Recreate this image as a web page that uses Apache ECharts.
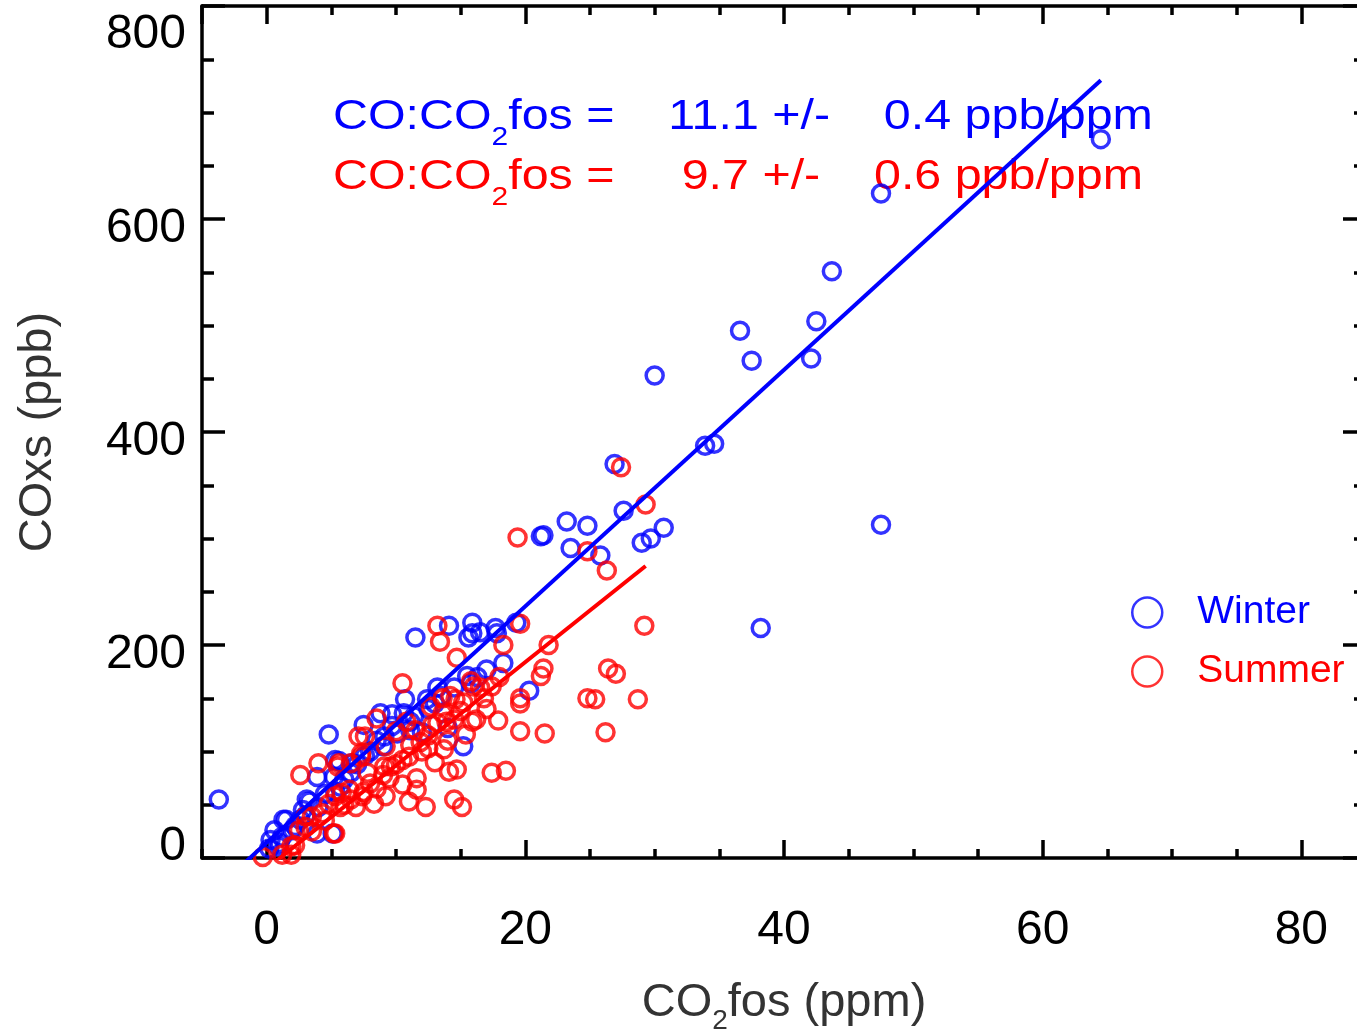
<!DOCTYPE html>
<html>
<head>
<meta charset="utf-8">
<script src="https://cdn.jsdelivr.net/npm/echarts@6/dist/echarts.min.js"></script>
<style>
  html, body { margin: 0; padding: 0; background: #fff; }
  #main { width: 1357px; height: 1031px; }
</style>
</head>
<body>
<div id="main"></div>
<script>
// [CO2fos (ppm), COxs (ppb)]
var winterPoints = [
  [-3.7, 55], [64.5, 675], [47.5, 624], [43.7, 551], [42.5, 504], [36.6, 495], [42.1, 469], [37.5, 467], [30.0, 453],
  [34.6, 389], [33.9, 387], [26.9, 370], [27.6, 326], [30.7, 310], [29.7, 300], [29.0, 296],
  [23.2, 316], [24.8, 312], [21.2, 302], [21.4, 303], [23.5, 291], [25.8, 284], [47.5, 313], [38.2, 216],
  [19.3, 221], [17.7, 216], [17.8, 211], [16.5, 212], [15.9, 221], [15.9, 211], [15.6, 207], [14.1, 218], [11.5, 207],
  [17.0, 177], [15.5, 171], [15.8, 164], [20.3, 157], [15.2, 105],
  [10.7, 149], [12.4, 149], [8.8, 136], [9.7, 135], [10.6, 136], [11.4, 133], [11.1, 128], [11.1, 120], [10.1, 117],
  [9.1, 114], [9.7, 124], [7.5, 125],
  [4.8, 116], [5.3, 92], [5.6, 91], [6.6, 89], [3.9, 76], [5.2, 76], [5.7, 67], [5.3, 62], [3.1, 55], [3.3, 53],
  [2.8, 45], [1.3, 36], [2.6, 36], [1.5, 36], [0.6, 26], [2.0, 26], [0.3, 17], [1.2, 20], [0.9, 11], [0.2, 9],
  [5.1, 23], [3.9, 23],
  [12.5, 140], [13.5, 152], [14.5, 160], [13.0, 145], [8.0, 100], [7.0, 88], [6.5, 80], [9.0, 105], [4.5, 60],
  [4.0, 48], [2.2, 30], [3.0, 40], [1.0, 14], [6.0, 74], [7.6, 96], [8.5, 110], [16.3, 170], [14.0, 122],
  [12.0, 118], [18.3, 183], [13.2, 160]
];

var summerPoints = [
  [27.4, 367], [29.3, 332], [19.4, 301], [24.8, 288], [26.3, 270], [19.6, 220], [29.2, 218], [18.3, 200], [21.8, 200],
  [26.4, 178], [27.0, 173], [21.4, 178], [21.2, 171], [17.4, 161], [16.5, 160], [19.6, 150], [19.6, 145], [24.8, 150],
  [25.4, 149], [28.7, 149], [17.9, 129], [19.6, 119], [21.5, 117], [26.2, 118],
  [13.2, 218], [13.4, 203], [14.7, 188], [10.5, 164], [15.8, 166], [16.0, 161], [14.2, 152], [14.6, 149], [13.6, 150],
  [12.7, 142], [15.9, 128], [14.5, 130], [13.6, 136], [13.2, 127], [13.9, 128], [15.4, 116], [15.2, 146],
  [8.5, 131], [7.6, 114], [10.0, 119], [9.2, 105], [11.1, 106], [11.9, 109], [12.5, 103], [13.7, 102], [5.6, 89],
  [6.5, 89], [7.3, 95], [7.8, 80], [9.1, 86], [9.6, 86], [11.6, 75], [10.5, 69], [11.6, 64], [14.1, 81], [14.7, 83],
  [17.4, 80], [18.5, 82], [9.2, 58], [8.3, 51], [11.0, 53], [12.3, 48], [14.5, 55], [15.1, 48], [6.5, 55], [5.7, 48],
  [5.2, 23],
  [2.6, 78], [4.0, 89], [5.5, 86], [7.1, 114], [7.3, 98], [3.0, 39], [3.5, 39], [4.3, 42], [2.5, 26], [3.0, 29],
  [2.2, 12], [-0.3, 1], [1.2, 3], [1.9, 3], [5.3, 23], [4.8, 51], [5.3, 58], [5.8, 61], [6.4, 64], [6.9, 48],
  [7.4, 58], [1.9, 11],
  [8.0, 70], [9.0, 78], [10.0, 88], [11.0, 95], [12.0, 100], [10.5, 92], [9.5, 75], [8.5, 65], [7.5, 62], [6.0, 50],
  [4.5, 35], [3.5, 25], [12.5, 115], [14.0, 110], [11.5, 120], [10.8, 128], [16.8, 150], [15.0, 138], [12.8, 125],
  [17.0, 140], [18.0, 170], [16.2, 130], [13.0, 90]
];

var seasonNames = ['Winter', 'Summer'];
var seasonColors = ['#0000ff', '#ff0000'];
var fitSlope = [11.1, 9.7];       // ppb/ppm
var fitError = [0.4, 0.6];
var fitIntercept = [14.4, -10.0]; // ppb

var FONT = 'Liberation Sans';

// fit line spans the x range of its own points
function fitLine(points, i) {
  var xs = points.map(function (p) { return p[0]; });
  var x0 = Math.min.apply(null, xs), x1 = Math.max.apply(null, xs);
  return [[x0, fitSlope[i] * x0 + fitIntercept[i]], [x1, fitSlope[i] * x1 + fitIntercept[i]]];
}

function ratioText(i) {
  return '{m|CO:CO}{s|2}{m|fos = ' + fitSlope[i].toFixed(1).padStart(7) + ' +/- ' +
    fitError[i].toFixed(1).padStart(6) + ' ppb/ppm}';
}

var allPoints = [winterPoints, summerPoints];
var series = [];
seasonNames.forEach(function (name, i) {
  series.push({
    type: 'scatter',
    name: name,
    data: allPoints[i],
    symbol: 'circle',
    symbolSize: 17,
    itemStyle: { color: 'rgba(0,0,0,0)', borderColor: seasonColors[i], borderWidth: 3.5 },
    emphasis: { disabled: true }
  });
  series.push({
    type: 'line',
    data: fitLine(allPoints[i], i),
    showSymbol: false,
    lineStyle: { color: seasonColors[i], width: 4 },
    emphasis: { disabled: true }
  });
});

var lineSt = { color: '#000', width: 3.5 };

var chart = echarts.init(document.getElementById('main'));
chart.setOption({
  animation: false,
  backgroundColor: '#fff',
  grid: { left: 202, right: -9, top: 6, bottom: 173, containLabel: false, outerBoundsMode: 'none' },
  legend: {
    left: 1131, top: 593, orient: 'vertical', padding: 0,
    itemWidth: 90, itemHeight: 30, itemGap: 20,
    icon: 'circle', selectedMode: false,
    itemStyle: { color: 'rgba(0,0,0,0)', borderWidth: 2.5 },
    textStyle: { fontSize: 39, fontFamily: FONT, lineHeight: 30 },
    data: seasonNames.map(function (n, i) { return { name: n, textStyle: { color: seasonColors[i] } }; })
  },
  xAxis: [
    {
      type: 'value', position: 'bottom', min: -5, max: 85, splitNumber: 5,
      axisLine: { show: true, onZero: false, lineStyle: lineSt },
      axisTick: { show: true, inside: true, length: 18, lineStyle: lineSt },
      splitLine: { show: false },
      axisLabel: { margin: 49, fontSize: 48, color: '#000', fontFamily: FONT, showMinLabel: false, showMaxLabel: false },
      name: '{m|CO}{s|2}{m|fos (ppm)}', nameLocation: 'middle', nameGap: 113, nameMoveOverlap: false,
      nameTextStyle: { fontSize: 47, color: '#333', fontFamily: FONT, rich: { m: {}, s: { fontSize: 28, padding: [36, 0, 0, 0] } } }
    },
    {
      type: 'value', position: 'bottom', min: -5, max: 85, interval: 5,
      axisLine: { show: false, onZero: false },
      axisTick: { show: true, inside: true, length: 9, lineStyle: lineSt },
      axisLabel: { show: false }, splitLine: { show: false }
    },
    {
      type: 'value', position: 'top', min: -5, max: 85, splitNumber: 5,
      axisLine: { show: true, onZero: false, lineStyle: lineSt },
      axisTick: { show: true, inside: true, length: 18, lineStyle: lineSt },
      axisLabel: { show: false }, splitLine: { show: false }
    },
    {
      type: 'value', position: 'top', min: -5, max: 85, interval: 5,
      axisLine: { show: false, onZero: false },
      axisTick: { show: true, inside: true, length: 9, lineStyle: lineSt },
      axisLabel: { show: false }, splitLine: { show: false }
    }
  ],
  yAxis: [
    {
      type: 'value', position: 'left', min: 0, max: 800, interval: 200,
      axisLine: { show: true, onZero: false, lineStyle: lineSt },
      axisTick: { show: true, inside: true, length: 23, lineStyle: lineSt },
      minorTick: { show: true, splitNumber: 4, length: 12, lineStyle: lineSt },
      splitLine: { show: false },
      axisLabel: {
        margin: 16, fontSize: 48, color: '#000', fontFamily: FONT,
        formatter: function (v) {
          if (v === 800) return '{hi|' + v + '}';
          if (v === 0) return '{lo|' + v + '}';
          return '{n|' + v + '}';
        },
        rich: { n: { padding: [20, 0, 0, 0] }, hi: { padding: [58, 0, 0, 0] }, lo: { padding: [0, 0, 22, 0] } }
      },
      name: 'COxs (ppb)', nameLocation: 'middle', nameRotate: 90, nameGap: 140, nameMoveOverlap: false,
      nameTextStyle: { fontSize: 47, color: '#333', fontFamily: FONT }
    },
    {
      type: 'value', position: 'right', min: 0, max: 800, interval: 200,
      axisLine: { show: true, onZero: false, lineStyle: lineSt },
      axisTick: { show: true, inside: true, length: 23, lineStyle: lineSt },
      minorTick: { show: true, splitNumber: 4, length: 12, lineStyle: lineSt },
      splitLine: { show: false },
      axisLabel: { show: false }
    }
  ],
  graphic: seasonNames.map(function (n, i) {
    return {
      type: 'text', x: 333, y: 117 + i * 60, scaleX: 1.152, silent: true,
      style: {
        text: ratioText(i), fill: seasonColors[i], fontSize: 42, fontFamily: FONT,
        align: 'left', verticalAlign: 'middle',
        rich: { m: { fontSize: 42, fontFamily: FONT }, s: { fontSize: 26, fontFamily: FONT, padding: [42, 0, 0, 0] } }
      }
    };
  }),
  series: series
});
</script>
</body>
</html>
